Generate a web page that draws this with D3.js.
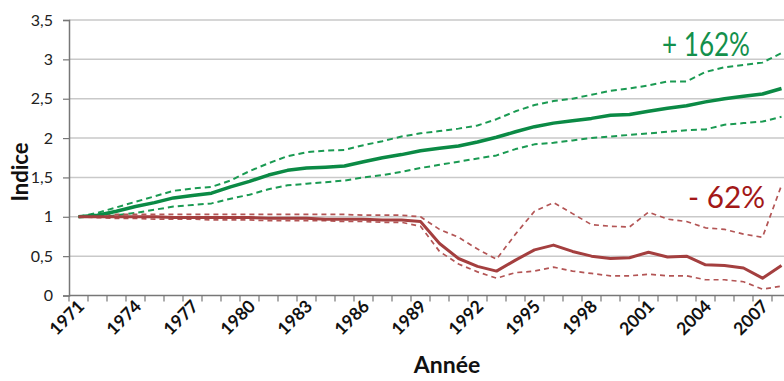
<!DOCTYPE html>
<html><head><meta charset="utf-8">
<script src="https://cdn.jsdelivr.net/npm/d3@7"></script>
<style>body{margin:0;background:#fff}svg{display:block}</style>
</head><body>
<svg id="c" width="784" height="381"></svg>
<script>
const years = d3.range(1971, 2009);
const yTicks = [0, 0.5, 1, 1.5, 2, 2.5, 3, 3.5];
const xTickLabels = [1971,1974,1977,1980,1983,1986,1989,1992,1995,1998,2001,2004,2007];

const greenMid = [1.00,1.02,1.07,1.13,1.18,1.24,1.27,1.30,1.38,1.45,1.53,1.59,1.62,1.63,1.645,1.70,1.75,1.79,1.84,1.87,1.90,1.95,2.01,2.08,2.145,2.19,2.22,2.25,2.29,2.30,2.34,2.38,2.41,2.46,2.50,2.53,2.56,2.63];
const greenHigh = [1.00,1.05,1.12,1.19,1.26,1.33,1.36,1.38,1.46,1.58,1.68,1.77,1.82,1.84,1.85,1.91,1.96,2.02,2.06,2.09,2.12,2.16,2.24,2.34,2.42,2.47,2.50,2.55,2.60,2.63,2.67,2.72,2.72,2.84,2.90,2.93,2.96,3.08];
const greenLow = [1.00,1.00,1.02,1.05,1.09,1.13,1.15,1.17,1.23,1.28,1.35,1.40,1.42,1.44,1.46,1.50,1.53,1.57,1.62,1.66,1.70,1.74,1.78,1.86,1.92,1.94,1.97,2.00,2.02,2.04,2.06,2.08,2.10,2.11,2.17,2.19,2.21,2.27];
const redMid = [1.00,1.00,1.00,1.00,1.00,0.99,0.99,0.99,0.99,0.99,0.98,0.98,0.98,0.97,0.97,0.97,0.96,0.96,0.94,0.66,0.47,0.37,0.31,0.45,0.58,0.64,0.56,0.50,0.47,0.48,0.55,0.49,0.50,0.39,0.38,0.35,0.22,0.38];
const redHigh = [1.00,1.02,1.03,1.03,1.03,1.03,1.03,1.03,1.03,1.03,1.03,1.03,1.03,1.03,1.03,1.02,1.02,1.02,1.00,0.84,0.74,0.59,0.46,0.78,1.07,1.18,1.04,0.90,0.88,0.87,1.06,0.97,0.94,0.86,0.84,0.78,0.74,1.40];
const redLow = [1.00,0.99,0.98,0.98,0.97,0.97,0.97,0.96,0.96,0.96,0.95,0.95,0.95,0.95,0.94,0.94,0.93,0.93,0.88,0.56,0.40,0.30,0.22,0.29,0.31,0.36,0.31,0.28,0.25,0.25,0.27,0.25,0.25,0.20,0.20,0.175,0.08,0.12];

const svg = d3.select("#c");
const x = d3.scaleBand().domain(years).range([69, 791]).padding(0);
const y = d3.scaleLinear().domain([0, 3.5]).range([295.5, 20]);
const cx = d => x(d) + x.bandwidth() / 2;

// grid
svg.append("g").selectAll("line").data(yTicks.filter(t => t > 0)).join("line")
  .attr("x1", 69).attr("x2", 784).attr("y1", d => y(d)).attr("y2", d => y(d))
  .attr("stroke", "#c9c9c9").attr("stroke-width", 1.5);

// y axis
const yAxis = svg.append("g").attr("transform", "translate(69,0)")
  .call(d3.axisLeft(y).tickValues(yTicks).tickSize(6).tickFormat(d => String(d).replace(".", ",")));
yAxis.select(".domain").attr("stroke", "#777").attr("stroke-width", 1.5);
yAxis.selectAll(".tick line").attr("stroke", "#777").attr("stroke-width", 1.2);
yAxis.selectAll("text").attr("font-family", "Lato, sans-serif").attr("font-size", 16)
  .attr("fill", "#222").attr("x", -16);

// x axis
const xAxisG = svg.append("g").attr("transform", "translate(0,295.5)");
xAxisG.append("line").attr("x1", 69).attr("x2", 784).attr("stroke", "#777").attr("stroke-width", 1.5);
xAxisG.selectAll("line.tk").data(years).join("line").attr("class", "tk")
  .attr("x1", d => x(d)).attr("x2", d => x(d)).attr("y1", 0).attr("y2", 6)
  .attr("stroke", "#777").attr("stroke-width", 1.2);
xAxisG.selectAll("text").data(xTickLabels).join("text")
  .attr("transform", d => `translate(${cx(d) + 7},${12}) rotate(-45)`)
  .attr("text-anchor", "end").attr("font-family", "Lato, sans-serif")
  .attr("font-weight", "bold").attr("font-size", 17.5).attr("fill", "#111")
  .text(d => d);

// lines
const line = d3.line().x((d, i) => cx(years[i])).y(d => y(d));
const series = [
  {v: greenHigh, c: "#1a9a52", w: 2, dash: "6,4"},
  {v: greenLow, c: "#1a9a52", w: 2, dash: "6,4"},
  {v: redHigh, c: "#b35555", w: 1.7, dash: "5,4"},
  {v: redLow, c: "#b35555", w: 1.7, dash: "5,4"},
  {v: greenMid, c: "#0b8a45", w: 3.5, dash: null},
  {v: redMid, c: "#a43f3f", w: 3, dash: null}
];
svg.append("g").selectAll("path").data(series).join("path")
  .attr("d", d => line(d.v)).attr("fill", "none")
  .attr("stroke", d => d.c).attr("stroke-width", d => d.w)
  .attr("stroke-dasharray", d => d.dash).attr("stroke-linejoin", "round");

// annotations
svg.append("text").attr("x", 662).attr("y", 56)
  .attr("font-family", "Lato, sans-serif").attr("font-size", 32).attr("fill", "#13904c")
  .attr("textLength", 88).attr("lengthAdjust", "spacingAndGlyphs")
  .text("+ 162%");
svg.append("text").attr("x", 688).attr("y", 208)
  .attr("font-family", "Lato, sans-serif").attr("font-size", 30).attr("fill", "#a31818")
  .attr("textLength", 77).attr("lengthAdjust", "spacingAndGlyphs")
  .text("- 62%");

// axis titles
svg.append("text").attr("transform", "translate(28,172) rotate(-90)").attr("text-anchor", "middle")
  .attr("font-family", "Lato, sans-serif").attr("font-weight", "bold").attr("font-size", 22)
  .attr("fill", "#111").text("Indice");
svg.append("text").attr("x", 447).attr("y", 373).attr("text-anchor", "middle")
  .attr("font-family", "Lato, sans-serif").attr("font-weight", "bold").attr("font-size", 23)
  .attr("fill", "#111").text("Année");
</script>
</body></html>
